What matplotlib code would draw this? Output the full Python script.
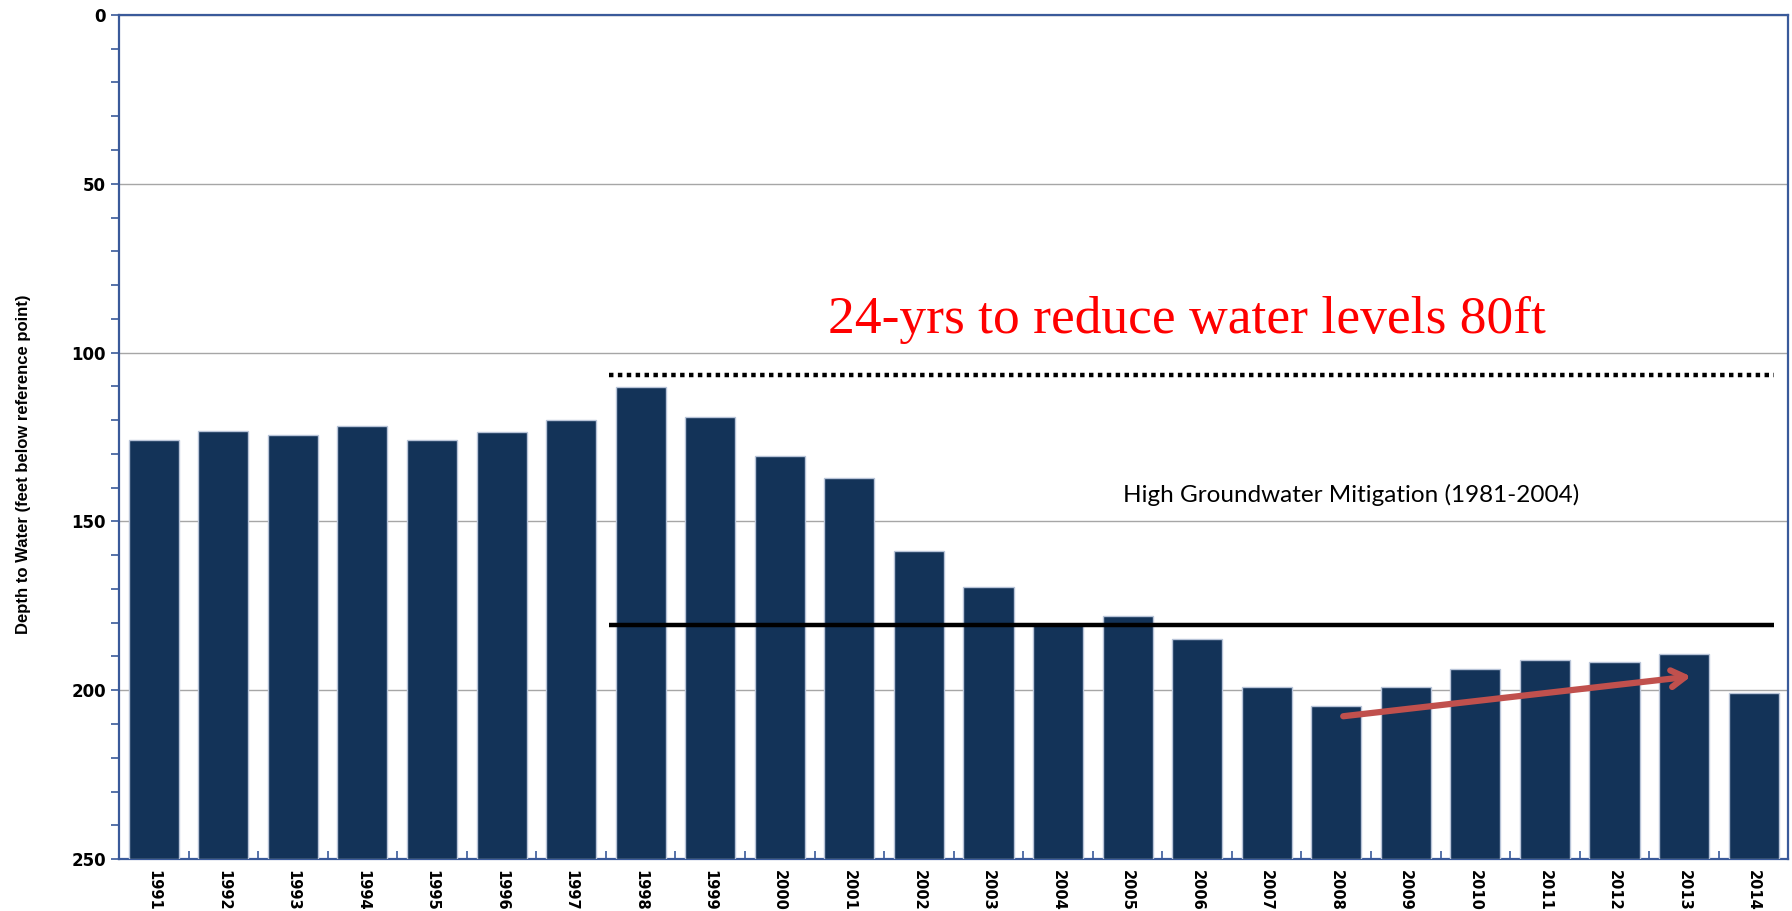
import matplotlib.pyplot as plt
from matplotlib.ticker import MultipleLocator, FixedLocator

# Depth to water by year (feet below reference point)
years = [str(y) for y in range(1991, 2015)]
depth = [125.8, 123.1, 124.5, 121.8, 125.8, 123.5, 120.1, 110.3, 119.1, 130.6,
         137.0, 158.7, 169.5, 180.5, 178.0, 184.7, 198.9, 204.7, 198.9, 193.8,
         191.1, 191.5, 189.4, 200.9]
axis_bottom = 250

# Reference levels and trend arrow
dotted_level = 106.6
mitigation_level = 180.6
arrow_from = (17.1, 207.7)
arrow_to = (22.1, 195.9)

fig = plt.figure(figsize=(17.92, 9.11), dpi=100)
ax = fig.add_axes([0.0664, 0.057, 0.9316, 0.9266])

x = list(range(len(years)))
heights = [axis_bottom - d for d in depth]
ax.bar(x, heights, bottom=depth, width=0.72, color="#133358",
       edgecolor="#B8C4D8", linewidth=1, zorder=3)

ax.set_xlim(-0.5, len(years) - 0.5)
ax.set_ylim(axis_bottom, 0)

# y axis
ax.yaxis.set_major_locator(MultipleLocator(50))
ax.yaxis.set_minor_locator(MultipleLocator(10))
ax.grid(axis="y", which="major", color="#A6A6A6", linewidth=1, zorder=0)
ax.tick_params(axis="y", which="both", direction="out", color="#3A5A9A",
               length=6, width=1.2)
for lab in ax.get_yticklabels():
    lab.set_fontweight("bold")
    lab.set_fontsize(12)
ax.set_ylabel("Depth to Water (feet below reference point)",
              fontsize=12, fontweight="bold", family="Liberation Sans")
ax.yaxis.set_label_coords(-0.053, 0.468)

# x axis
ax.set_xticks(x)
ax.set_xticklabels(years, rotation=-90, fontsize=10.5, fontweight="bold")
ax.xaxis.set_minor_locator(FixedLocator([i - 0.5 for i in range(len(years) + 1)]))
ax.tick_params(axis="x", which="major", length=0, pad=8)
ax.tick_params(axis="x", which="minor", direction="in", length=6,
               color="#3A5A9A", width=1.2)

for s in ax.spines.values():
    s.set_color("#3A5A9A")
    s.set_linewidth(1.6)

# reference lines
ax.hlines(dotted_level, 6.54, 23.29, colors="black", linewidth=3.2,
          linestyles=(0, (1, 1)), zorder=4)
ax.hlines(mitigation_level, 6.54, 23.29, colors="black", linewidth=3.2, zorder=4)

ax.text(17.22, 142.1, "High Groundwater Mitigation (1981-2004)",
        fontsize=17.5, family="Lato", ha="center", va="center", zorder=5)
ax.text(14.86, 90.3, "24-yrs to reduce water levels 80ft", color="red",
        fontsize=38.5, family="Liberation Serif", ha="center", va="center",
        zorder=5)

ax.annotate("", xy=arrow_to, xytext=arrow_from,
            arrowprops=dict(arrowstyle="->,head_length=1.0,head_width=0.6",
                            color="#C0504D", lw=4.5, shrinkA=0, shrinkB=0),
            zorder=6)

fig.savefig("out.png", dpi=100)
